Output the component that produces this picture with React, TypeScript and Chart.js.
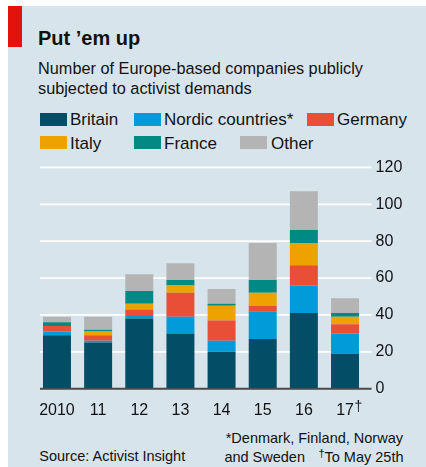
import React, { useEffect, useRef } from "react";
import { Chart, registerables } from "chart.js";

Chart.register(...registerables);

// ---- data ----
const years = ["2010", "11", "12", "13", "14", "15", "16", "17"];
const britain = [29, 25, 38, 30, 20, 27, 41, 19];
const nordic = [2, 1, 2, 9, 6, 15, 15, 11];
const germany = [3, 3, 3, 13, 11, 3, 11, 5];
const italy = [0, 2, 3, 4, 8, 7, 12, 4];
const france = [2, 1, 7, 3, 1, 7, 7, 2];
const other = [3, 7, 9, 9, 8, 20, 21, 8];
const yTicks = [0, 20, 40, 60, 80, 100, 120];
const seriesNames = ["Britain", "Nordic countries*", "Germany", "Italy", "France", "Other"];

// ---- style ----
const FONT = "'Liberation Sans', Arial, sans-serif";
const INK = "#121212";
const BG = "#d8e4ec";
const COLORS = ["#034d66", "#009bd8", "#e84f36", "#eda200", "#008a83", "#b3b4b3"];
const W = 426;
const H = 467;

function Txt(props: {
  x: number;
  base: number;
  size: number;
  bold?: boolean;
  right?: boolean;
  children: React.ReactNode;
}) {
  const { x, base, size, bold, right, children } = props;
  const style: React.CSSProperties = {
    position: "absolute",
    top: base - 0.8465 * size,
    lineHeight: size + "px",
    fontSize: size,
    fontWeight: bold ? 700 : 400,
    whiteSpace: "nowrap",
    color: INK,
    fontFamily: FONT,
  };
  if (right) style.right = W - x;
  else style.left = x;
  return <div style={style}>{children}</div>;
}

const legendSlots = [
  { sx: 40, sy: 113, tx: 70, base: 125 },
  { sx: 134, sy: 113, tx: 164, base: 125 },
  { sx: 307, sy: 113, tx: 337, base: 125 },
  { sx: 40, sy: 136, tx: 70, base: 149 },
  { sx: 134, sy: 136, tx: 164, base: 149 },
  { sx: 240, sy: 136, tx: 271, base: 149 },
];

const econPlugin = {
  id: "econGrid",
  beforeDatasetsDraw(chart: any) {
    const { ctx, chartArea } = chart;
    const y = chart.scales.y;
    ctx.save();
    ctx.strokeStyle = "#ffffff";
    ctx.lineWidth = 1.7;
    y.ticks.forEach((t: any) => {
      if (t.value === 0) return;
      const py = y.getPixelForValue(t.value);
      ctx.beginPath();
      ctx.moveTo(chartArea.left + 3.6, py);
      ctx.lineTo(chartArea.right + 6, py);
      ctx.stroke();
    });
    ctx.restore();
  },
  afterDatasetsDraw(chart: any) {
    const { ctx, chartArea } = chart;
    const y = chart.scales.y;
    const py = y.getPixelForValue(0);
    ctx.save();
    ctx.strokeStyle = "#4a4a4a";
    ctx.lineWidth = 2;
    ctx.beginPath();
    ctx.moveTo(chartArea.left + 3.6, py);
    ctx.lineTo(chartArea.right + 6, py);
    ctx.stroke();
    ctx.restore();
  },
  afterDraw(chart: any) {
    const { ctx } = chart;
    const x = chart.scales.x;
    const last = years.length - 1;
    const px = x.getPixelForValue(last);
    ctx.save();
    ctx.font = "16px " + FONT;
    const w = ctx.measureText(years[last]).width;
    ctx.font = "14px " + FONT;
    ctx.fillStyle = INK;
    ctx.textBaseline = "alphabetic";
    ctx.textAlign = "left";
    ctx.fillText("\u2020", px + w / 2 + 0.5, 411);
    ctx.restore();
  },
};

export default function App() {
  const ref = useRef<HTMLCanvasElement | null>(null);

  useEffect(() => {
    if (!ref.current) return;
    const seriesData = [britain, nordic, germany, italy, france, other];
    const chart = new Chart(ref.current, {
      type: "bar",
      data: {
        labels: years,
        datasets: seriesNames.map((name, i) => ({
          label: name,
          data: seriesData[i],
          backgroundColor: COLORS[i],
          borderWidth: 0,
          barPercentage: 0.68,
          categoryPercentage: 1,
        })),
      },
      options: {
        animation: false,
        responsive: false,
        maintainAspectRatio: false,
        layout: { padding: { left: 36.4, top: 167.4, right: 20.4, bottom: 48.3 } },
        plugins: { legend: { display: false }, tooltip: { enabled: false }, title: { display: false } },
        scales: {
          x: {
            stacked: true,
            grid: { display: false, drawTicks: false },
            border: { display: false },
            ticks: { color: INK, font: { family: FONT, size: 16 }, padding: 12, maxRotation: 0 },
            afterFit: (s: any) => {
              s.height = 30;
            },
          },
          y: {
            stacked: true,
            position: "right",
            min: 0,
            max: 120,
            grid: { display: true, color: "rgba(0,0,0,0)", drawOnChartArea: false, drawTicks: true, tickLength: 6 },
            border: { display: false },
            ticks: { color: INK, font: { family: FONT, size: 16 }, padding: 4 },
            afterBuildTicks: (s: any) => {
              s.ticks = yTicks.map((v) => ({ value: v }));
            },
            afterFit: (s: any) => {
              s.width = 40;
            },
          },
        },
      },
      plugins: [econPlugin],
    } as any);
    return () => chart.destroy();
  }, []);

  return (
    <div style={{ position: "absolute", left: 0, top: 0, width: W, height: H, background: "#ffffff", overflow: "hidden" }}>
      <div style={{ position: "absolute", left: 8, top: 6, width: W - 8, height: H - 6, background: BG }} />
      <div style={{ position: "absolute", left: 8, top: 6, width: 14, height: 41, background: "#e3120b" }} />
      <Txt x={38} base={45} size={20} bold>
        Put ’em up
      </Txt>
      <Txt x={38} base={73.3} size={16.3}>
        Number of Europe-based companies publicly
      </Txt>
      <Txt x={38} base={93.3} size={16.3}>
        subjected to activist demands
      </Txt>
      {seriesNames.map((name, i) => (
        <React.Fragment key={name}>
          <div
            style={{
              position: "absolute",
              left: legendSlots[i].sx,
              top: legendSlots[i].sy,
              width: 27,
              height: 13,
              background: COLORS[i],
            }}
          />
          <Txt x={legendSlots[i].tx} base={legendSlots[i].base} size={17}>
            {name}
          </Txt>
        </React.Fragment>
      ))}
      <Txt x={39.3} base={461.5} size={14.5}>
        Source: Activist Insight
      </Txt>
      <Txt x={403} base={443.3} size={14.5} right>
        *Denmark, Finland, Norway
      </Txt>
      <Txt x={305} base={462} size={14.5} right>
        and Sweden
      </Txt>
      <Txt x={403.5} base={462} size={14.5} right>
        <span style={{ fontSize: 11, position: "relative", top: -5 }}>†</span>To May 25th
      </Txt>
      <canvas ref={ref} width={W} height={H} style={{ position: "absolute", left: 0, top: 0, width: W, height: H }} />
    </div>
  );
}
